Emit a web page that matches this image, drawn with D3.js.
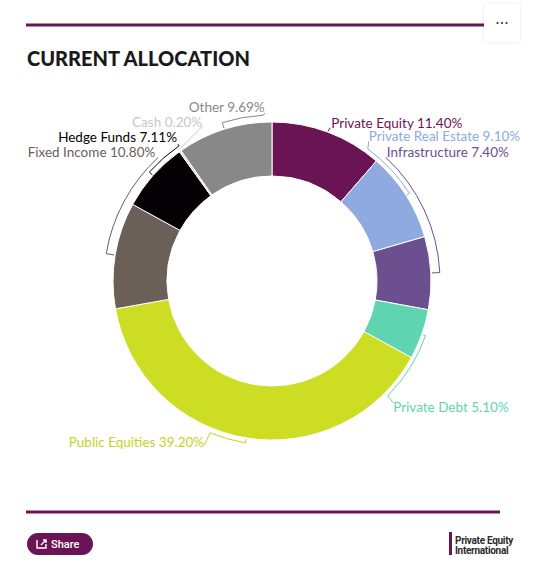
<!DOCTYPE html>
<html>
<head>
<meta charset="utf-8">
<script src="https://cdn.jsdelivr.net/npm/d3@7"></script>
<style>
  body { margin: 0; background: #fff; }
  svg { display: block; }
</style>
</head>
<body>
<svg id="chart"></svg>
<script>
// allocation shares, clockwise from 12 o'clock
var categories = ["Private Equity", "Private Real Estate", "Infrastructure", "Private Debt",
                  "Public Equities", "Fixed Income", "Hedge Funds", "Cash", "Other"];
var shares = [11.40, 9.10, 7.40, 5.10, 39.20, 10.80, 7.11, 0.20, 9.69];
var sliceColors = ["#6a1456", "#8eaae0", "#6c4f8f", "#5ed5b0", "#cddd23", "#6b6058", "#040003", "#d6d6d6", "#888888"];
var labelColors = ["#6a1456", "#8eaae0", "#6c4f8f", "#5ed5b0", "#c3d31f", "#6b6058", "#040003", "#c8c8c8", "#888888"];

// label placement: connector arc radius/end (deg) and the text attach point (deg, radius)
var labelLayout = {
  "Private Equity":      {arcR: 160, arcEnd: null, at: [20.8, 164], anchor: "start", dx: 1, dy: 0},
  "Private Real Estate": {arcR: 163, arcEnd: 36,   at: [34.7, 170], anchor: "start", dx: 0, dy: 0},
  "Infrastructure":      {arcR: 168, arcEnd: 42.8, at: [42.8, 169], anchor: "start", dx: 0, dy: 0},
  "Private Debt":        {arcR: 163, arcEnd: 134.7, at: [135.2, 172], anchor: "start", dx: 0, dy: 9},
  "Public Equities":     {arcR: 164, arcEnd: 202.2, at: [202.4, 178], anchor: "end", dx: 0, dy: 1},
  "Fixed Income":        {arcR: 168, arcEnd: 317.4, at: [317.4, 168], anchor: "end", dx: -3, dy: 0},
  "Hedge Funds":         {arcR: 164, arcEnd: 325.5, at: [325.5, 166], anchor: "end", dx: -1, dy: -2},
  "Cash":                {arcR: 161, arcEnd: null, at: [336.1, 170], anchor: "end", dx: -1, dy: 1},
  "Other":               {arcR: 166, arcEnd: 357, at: [357.5, 168], anchor: "end", dx: 0, dy: -1}
};

var width = 540, height = 565;
var cx = 272, cy = 281, outerR = 159, innerR = 105;
var purple = "#6a1456";

var svg = d3.select("#chart").attr("width", width).attr("height", height);

// soft shadow for the menu button
var defs = svg.append("defs");
var f = defs.append("filter").attr("id", "shadow").attr("x", "-30%").attr("y", "-30%")
  .attr("width", "160%").attr("height", "160%");
f.append("feDropShadow").attr("dx", 0).attr("dy", 0).attr("stdDeviation", 1.5)
  .attr("flood-color", "#000").attr("flood-opacity", 0.12);

// top rule and title
svg.append("line").attr("x1", 26).attr("x2", 484).attr("y1", 25).attr("y2", 25)
  .style("stroke", purple).style("stroke-width", 3);

svg.append("text").attr("x", 27).attr("y", 66)
  .style("font-family", "Lato").style("font-weight", 900).style("font-size", "20px")
  .style("letter-spacing", "0px").style("fill", "#1a1a1a")
  .text("CURRENT ALLOCATION");

// menu button
var menu = svg.append("g");
menu.append("rect").attr("x", 484).attr("y", 4).attr("width", 36).attr("height", 38).attr("rx", 4)
  .style("fill", "#fff").attr("filter", "url(#shadow)");
[0, 1, 2].forEach(function (i) {
  menu.append("circle").attr("cx", 497.5 + i * 4.5).attr("cy", 23).attr("r", 1.1).style("fill", "#333");
});

// donut
var pie = d3.pie().sort(null).value(function (d) { return d; });
var arcs = pie(shares);
var arc = d3.arc().innerRadius(innerR).outerRadius(outerR);

var g = svg.append("g").attr("transform", "translate(" + cx + "," + cy + ")");

g.selectAll("path.slice")
  .data(arcs)
  .enter()
  .append("path")
  .attr("class", "slice")
  .attr("d", arc)
  .style("fill", function (d, i) { return sliceColors[i]; })
  .style("stroke", "#fff")
  .style("stroke-width", 1);

function polar(deg, r) {
  var a = deg * Math.PI / 180;
  return [r * Math.sin(a), -r * Math.cos(a)];
}

var rad = Math.PI / 180;

arcs.forEach(function (d, i) {
  var name = categories[i];
  var lay = labelLayout[name];
  var mid = (d.startAngle + d.endAngle) / 2 / rad;
  var p = d3.path();
  var s = polar(mid, outerR + 1);
  p.moveTo(s[0], s[1]);
  var t = polar(mid, lay.arcR);
  p.lineTo(t[0], t[1]);
  if (lay.arcEnd !== null) {
    var a0 = mid * rad - Math.PI / 2, a1 = lay.arcEnd * rad - Math.PI / 2;
    p.arc(0, 0, lay.arcR, a0, a1, a1 < a0);
  }
  var at = polar(lay.at[0], lay.at[1]);
  p.lineTo(at[0], at[1]);

  g.append("path").attr("d", p.toString())
    .style("fill", "none").style("stroke", labelColors[i]).style("stroke-width", 1);

  g.append("text")
    .attr("x", at[0] + lay.dx)
    .attr("y", at[1] + lay.dy)
    .attr("text-anchor", lay.anchor)
    .style("font-family", "Lato").style("font-size", "13.5px")
    .style("fill", labelColors[i])
    .text(name + " " + d3.format(".2f")(shares[i]) + "%");
});

// bottom rule
svg.append("line").attr("x1", 26).attr("x2", 500).attr("y1", 512).attr("y2", 512)
  .style("stroke", purple).style("stroke-width", 3);

// share button
var share = svg.append("g");
share.append("rect").attr("x", 27).attr("y", 533).attr("width", 66).attr("height", 22).attr("rx", 11)
  .style("fill", purple);
share.append("path").attr("d", "M37,540 v8 h9 v-4 M41,545 l5,-5 M43,540 h3 v3")
  .style("fill", "none").style("stroke", "#fff").style("stroke-width", 1.4);
share.append("text").attr("x", 51).attr("y", 548)
  .style("font-family", "Roboto").style("font-weight", 500).style("font-size", "11px")
  .style("fill", "#fff").text("Share");

// logo
svg.append("rect").attr("x", 449).attr("y", 532).attr("width", 3).attr("height", 23).style("fill", purple);
svg.append("text").attr("x", 455).attr("y", 543.5)
  .style("font-family", "Roboto").style("font-weight", 700).style("font-size", "10px")
  .style("letter-spacing", "-0.3px").style("fill", "#2a2a2a").text("Private Equity");
svg.append("text").attr("x", 455).attr("y", 553.5)
  .style("font-family", "Roboto").style("font-weight", 700).style("font-size", "10px")
  .style("letter-spacing", "-0.3px").style("fill", "#2a2a2a").text("International");
</script>
</body>
</html>
